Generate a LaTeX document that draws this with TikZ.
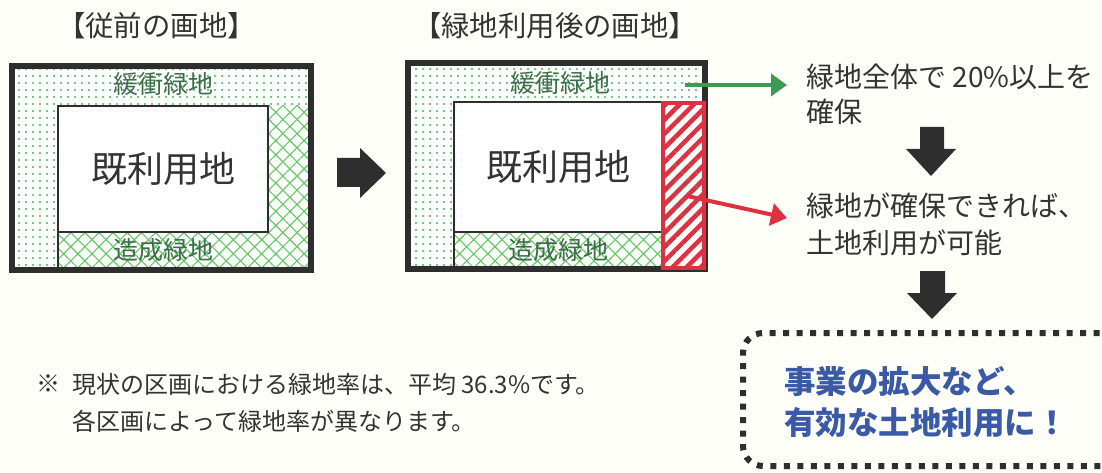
\documentclass[tikz,border=0pt]{standalone}
\usepackage{fontspec}
\setmainfont{Noto Sans CJK JP}
\usetikzlibrary{patterns.meta,arrows.meta}
\definecolor{bgc}{HTML}{FFFFFA}
\definecolor{txt}{HTML}{333333}
\definecolor{lblg}{HTML}{3C6E4A}
\definecolor{dotg}{HTML}{48B458}
\definecolor{hatchg}{HTML}{62CA62}
\definecolor{framec}{HTML}{2E2E2E}
\definecolor{redc}{HTML}{E0303F}
\definecolor{arrg}{HTML}{3C9A55}
\definecolor{bluec}{HTML}{3A5AA7}
\begin{document}
\begin{tikzpicture}[x=1pt,y=-1pt,
  frame/.style={draw=framec,line width=6pt},
  thinline/.style={draw=framec,line width=2.6pt},
  landbox/.style={draw=framec,line width=2.6pt,fill=white,inner sep=0pt,text=txt,font=\fontsize{36}{40}\selectfont},
  lbl/.style={inner sep=0pt,text=lblg,font=\fontsize{25}{30}\selectfont},
  ttl/.style={inner sep=0pt,text=txt,font=\fontsize{28.4}{32}\selectfont},
  rt/.style={inner sep=0pt,text=txt,font=\fontsize{28}{32}\selectfont,anchor=west},
  nt/.style={inner sep=0pt,text=txt,font=\fontsize{24}{30}\selectfont,anchor=west},
  bt/.style={inner sep=0pt,text=bluec,font=\fontsize{31.5}{36}\selectfont\bfseries,anchor=west},
  dots/.style={pattern={Dots[distance=6.5pt,radius=1.2pt]},pattern color=dotg},
  xhatch/.style={pattern={Hatch[angle=45,distance=10pt,line width=1.1pt]},pattern color=hatchg},
  blk/.style={fill=framec},
  dotbox/.style={draw=framec,line width=6pt,dash pattern=on 6pt off 7.5pt,rounded corners=20pt}
]
\fill[bgc] (0,0) rectangle (1102,473);
\useasboundingbox (0,0) rectangle (1102,473);

% titles
\node[ttl] (tL) at (156.5,26) {【従前の画地】};
\node[ttl] (tR) at (555,26) {【緑地利用後の画地】};

% ---- left plot
\fill[white] (12,66) rectangle (311,270);
\fill[dots] (12,66) rectangle (311,270);
\fill[white] (58,106) rectangle (311,270);
\fill[xhatch] (58,106) rectangle (311,270);
\draw[thinline] (58,232) -- (58,270);
\node[landbox,minimum width=210pt,minimum height=126pt] (kiL) at (163,169) {既利用地};
\draw[frame] (12,66) rectangle (311,270);
\node[lbl] (kanL) at (163,84) {緩衝緑地};
\node[lbl] (zoL) at (163,250) {造成緑地};

% block arrow right
\fill[blk] (337,158) -- (360,158) -- (360,148) -- (386,173) -- (360,198) -- (360,187) -- (337,187) -- cycle;

% ---- right plot
\fill[white] (408,63) rectangle (705,269);
\fill[dots] (408,63) rectangle (705,269);
\fill[white] (454,232) rectangle (662,269);
\fill[xhatch] (454,232) rectangle (662,269);
\draw[thinline] (454,232) -- (454,269);
\node[landbox,minimum width=208pt,minimum height=130pt] (kiR) at (558,167) {既利用地};
\draw[frame] (408,63) rectangle (705,269);
\node[draw=redc,line width=4pt,preaction={fill=white},
  pattern={Lines[angle=45,distance=10pt,line width=4.5pt]},pattern color=redc,
  minimum width=41pt,minimum height=165pt,inner sep=0pt] (redR) at (683.5,185.5) {};
\node[lbl] (kanR) at (560,83) {緩衝緑地};
\node[lbl] (zoR) at (558,250) {造成緑地};

% connectors
\coordinate (gs) at (685,85);
\coordinate (ge) at (787,85);
\draw[arrg,line width=4.5pt,-{Triangle[length=16pt,width=22pt]}] (gs) -- (ge);
\coordinate (rs) at (687,196);
\coordinate (re) at (787,218);
\draw[redc,line width=4pt,-{Triangle[length=16pt,width=22pt]}] (rs) -- (re);

% right texts
\node[rt] (r1) at (806,77) {緑地全体で 20\%以上を};
\node[rt] (r2) at (806,112) {確保};
\node[rt] (r3) at (806,206) {緑地が確保できれば、};
\node[rt] (r4) at (806,243) {土地利用が可能};

% down arrows
\fill[blk] (920,127) -- (944,127) -- (944,149) -- (956,149) -- (931,176) -- (906,149) -- (920,149) -- cycle;
\fill[blk] (920,271) -- (945,271) -- (945,293) -- (957,293) -- (932,319) -- (907,293) -- (920,293) -- cycle;

% dotted box
\draw[dotbox] (1140,333) -- (743,333) -- (743,466) -- (1140,466);
\node[bt] (b1) at (784,382) {事業の拡大など、};
\node[bt] (b2) at (784,423) {有効な土地利用に！};

% note
\node[nt] (ns) at (36,384) {※};
\node[nt] (n1) at (72,384) {現状の区画における緑地率は、平均 36.3\%です。};
\node[nt] (n2) at (72,421) {各区画によって緑地率が異なります。};
\end{tikzpicture}
\end{document}
